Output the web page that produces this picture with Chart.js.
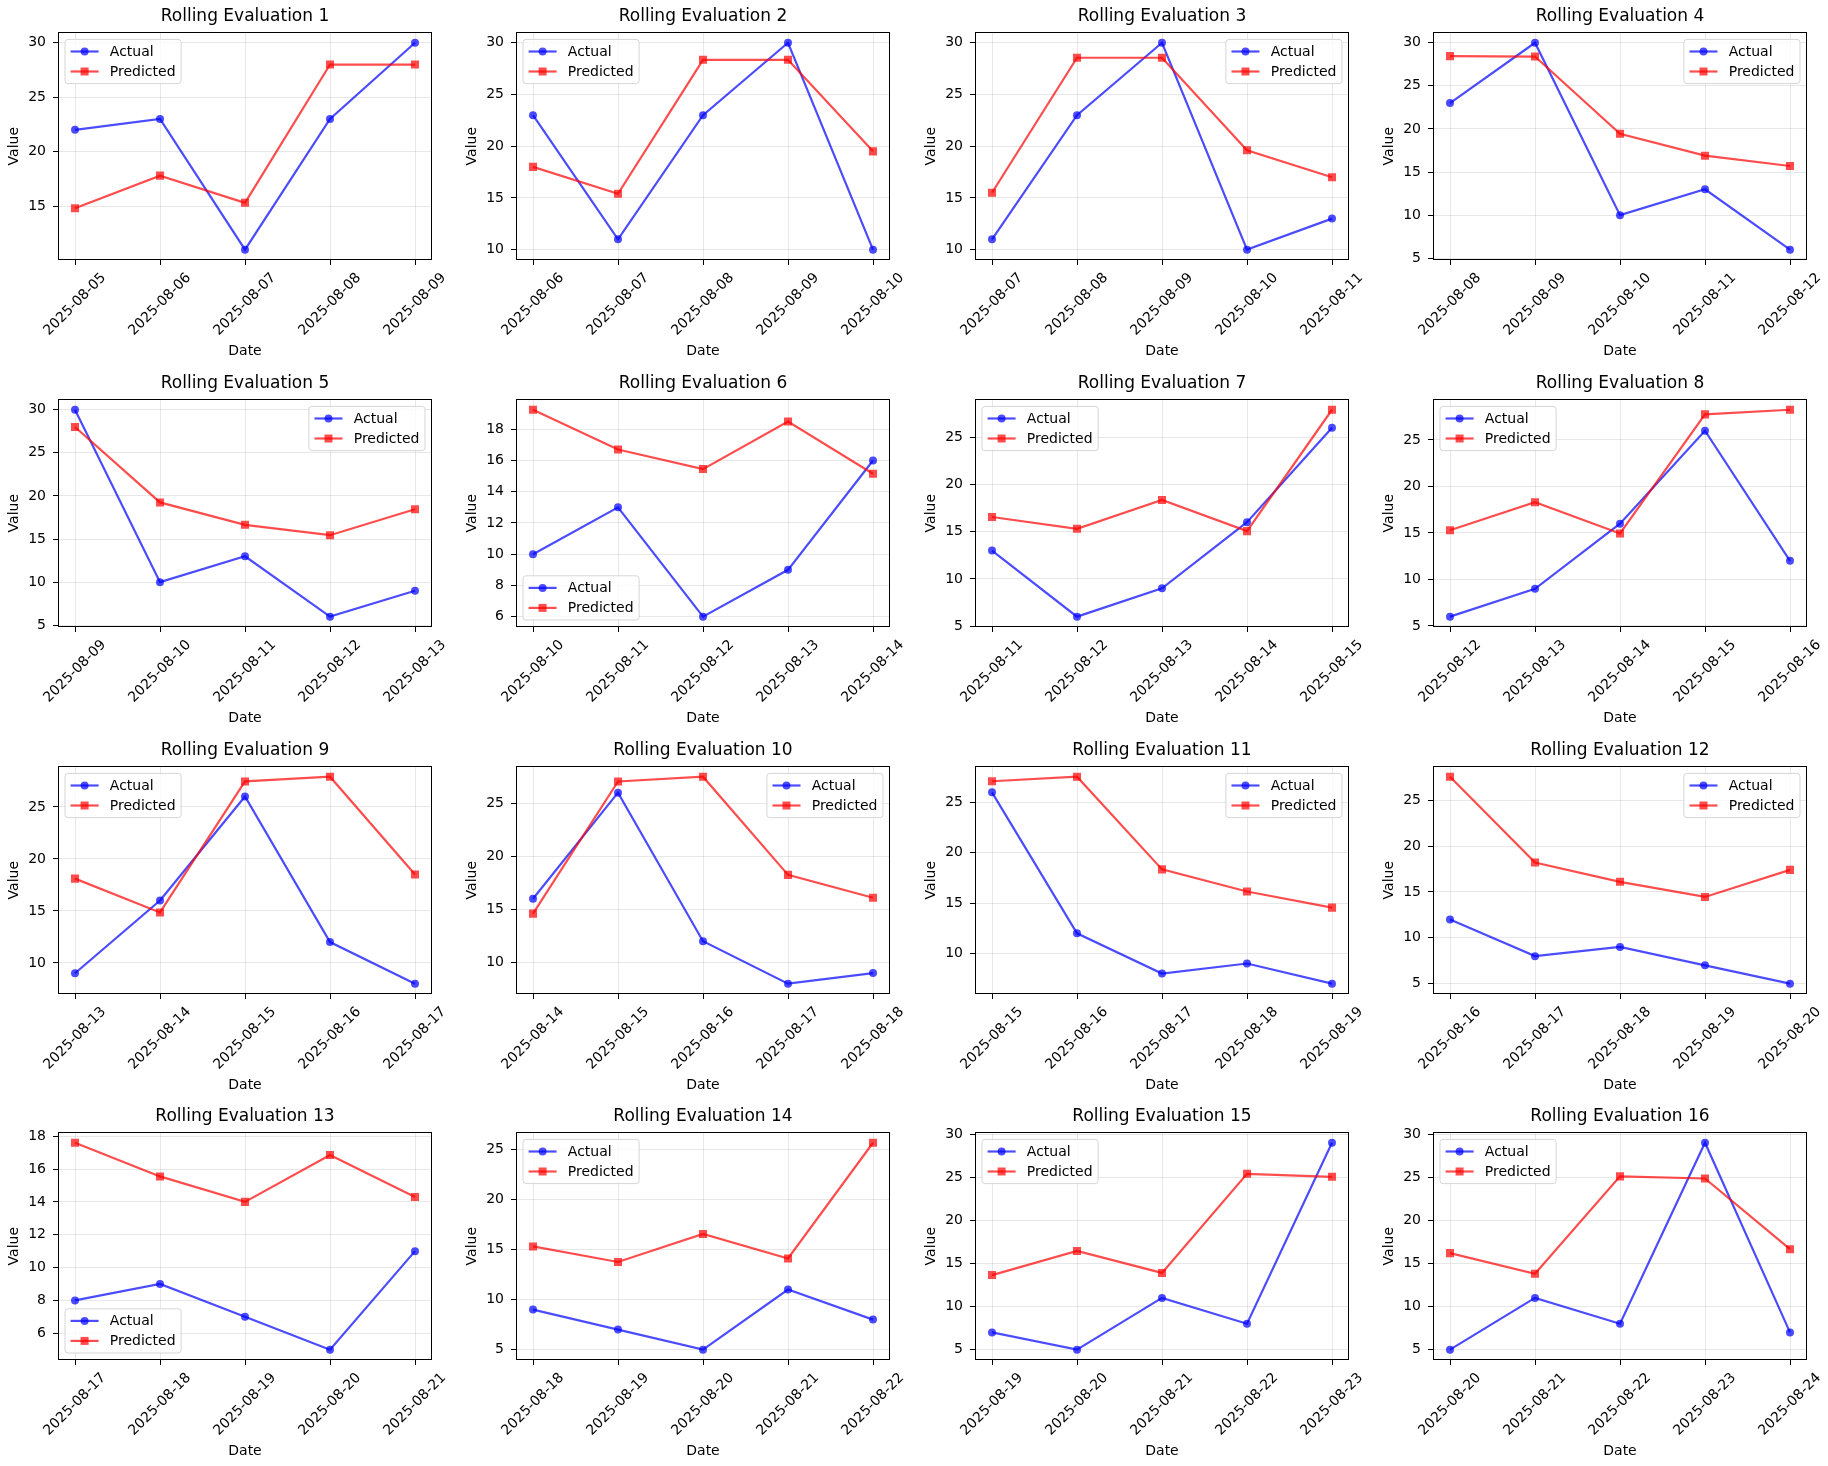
<!DOCTYPE html>
<html>
<head>
<meta charset="utf-8">
<title>Rolling Evaluation</title>
<script src="https://cdn.jsdelivr.net/npm/chart.js@4.4.1/dist/chart.umd.min.js"></script>
<style>
  html, body { margin: 0; padding: 0; background: #fff; overflow: hidden; }
  #grid { position: relative; width: 1828px; height: 1466px; }
  #grid canvas { position: absolute; }
</style>
</head>
<body>
<div id="grid"></div>
<script>
// Fechas y valores reales del periodo completo
const dates = [
    '2025-08-05', '2025-08-06', '2025-08-07', '2025-08-08', '2025-08-09',
    '2025-08-10', '2025-08-11', '2025-08-12', '2025-08-13', '2025-08-14',
    '2025-08-15', '2025-08-16', '2025-08-17', '2025-08-18', '2025-08-19',
    '2025-08-20', '2025-08-21', '2025-08-22', '2025-08-23', '2025-08-24'
];
const actual = [22, 23, 11, 23, 30, 10, 13, 6, 9, 16, 26, 12, 8, 9, 7, 5, 11, 8, 29, 7];

// Predicciones de cada ventana de 5 dias
const predicted = [
    [14.8, 17.8, 15.3, 28.0, 28.0],
    [18.0, 15.4, 28.35, 28.35, 19.5],
    [15.5, 28.55, 28.55, 19.6, 17.0],
    [28.45, 28.4, 19.45, 16.9, 15.7],
    [28.0, 19.25, 16.65, 15.45, 18.45],
    [19.25, 16.7, 15.45, 18.5, 15.15],
    [16.55, 15.3, 18.35, 15.05, 27.9],
    [15.3, 18.3, 14.95, 27.75, 28.25],
    [18.1, 14.85, 27.45, 27.9, 18.5],
    [14.6, 27.05, 27.5, 18.25, 16.1],
    [27.1, 27.55, 18.35, 16.15, 14.55],
    [27.55, 18.2, 16.1, 14.45, 17.4],
    [17.6, 15.55, 14.0, 16.85, 14.3],
    [15.3, 13.75, 16.55, 14.1, 25.65],
    [13.65, 16.45, 13.9, 25.4, 25.05],
    [16.2, 13.8, 25.1, 24.85, 16.65]
];

// Posicion de la leyenda en cada panel (u/l = arriba/abajo, l/r = izquierda/derecha)
const legendLoc = ['ul', 'ul', 'ur', 'ur', 'ur', 'll', 'ul', 'ul', 'ul', 'ur', 'ur', 'ur', 'll', 'ul', 'ul', 'ul'];

const WINDOW = 5;
const FONT = 'DejaVu Sans';
const axesLeft = [58, 516, 975, 1433];
const axesTop = [32, 399, 766, 1132];
const GRID_COLOR = 'rgba(176,176,176,0.3)';
const BLUE = 'rgba(0,0,255,0.7)';
const RED = 'rgba(255,0,0,0.7)';

Chart.defaults.font.family = FONT;
Chart.defaults.color = '#000';

// Dibuja un marcador (circulo o cuadrado) como en matplotlib
function drawMarker(ctx, style, x, y, color) {
    ctx.fillStyle = color;
    ctx.beginPath();
    if (style === 'circle') {
        ctx.arc(x, y, 4, 0, Math.PI * 2);
    } else {
        ctx.rect(x - 4, y - 4, 8, 8);
    }
    ctx.fill();
}

// Plugin: marco, etiquetas del eje x giradas y leyenda dentro del area
function panelDecor(labels, loc) {
    return {
        id: 'panelDecor',
        afterDraw(chart) {
            const ctx = chart.ctx;
            const area = chart.chartArea;
            const xScale = chart.scales.x;
            ctx.save();

            // Marco negro del area de ejes
            const l = Math.round(area.left) + 0.5, t = Math.round(area.top) + 0.5;
            const r = Math.round(area.right) - 0.5, b = Math.round(area.bottom) - 0.5;
            ctx.strokeStyle = '#000';
            ctx.lineWidth = 1;
            ctx.strokeRect(l, t, r - l, b - t);

            // Etiquetas de fecha a 45 grados, centradas bajo cada marca
            ctx.font = '14px "' + FONT + '"';
            ctx.fillStyle = '#000';
            ctx.textAlign = 'center';
            ctx.textBaseline = 'middle';
            xScale.ticks.forEach(tick => {
                const text = labels[tick.value];
                if (text === undefined) return;
                const w = ctx.measureText(text).width;
                const half = (w + 16) * Math.SQRT1_2 / 2;
                const px = xScale.getPixelForValue(tick.value);
                ctx.save();
                ctx.translate(px, area.bottom + 10 + half);
                ctx.rotate(-Math.PI / 4);
                ctx.fillText(text, 0, 0);
                ctx.restore();
            });

            // Leyenda
            const items = chart.data.datasets;
            const fs = 14, pad = 0.4 * fs, handle = 2 * fs, gap = 0.8 * fs, rowH = 13, spacing = 0.5 * fs;
            const textW = Math.max(...items.map(d => ctx.measureText(d.label).width));
            const bw = pad + handle + gap + textW + pad;
            const bh = pad * 2 + rowH * items.length + spacing * (items.length - 1);
            const x0 = loc[1] === 'l' ? area.left + 7 : area.right - 7 - bw;
            const y0 = loc[0] === 'u' ? area.top + 7 : area.bottom - 7 - bh;
            const rad = 3;
            ctx.beginPath();
            ctx.moveTo(x0 + rad, y0);
            ctx.arcTo(x0 + bw, y0, x0 + bw, y0 + bh, rad);
            ctx.arcTo(x0 + bw, y0 + bh, x0, y0 + bh, rad);
            ctx.arcTo(x0, y0 + bh, x0, y0, rad);
            ctx.arcTo(x0, y0, x0 + bw, y0, rad);
            ctx.closePath();
            ctx.fillStyle = 'rgba(255,255,255,0.8)';
            ctx.fill();
            ctx.strokeStyle = 'rgba(204,204,204,0.8)';
            ctx.stroke();

            items.forEach((d, i) => {
                const cy = y0 + pad + rowH / 2 + i * (rowH + spacing);
                ctx.strokeStyle = d.borderColor;
                ctx.lineWidth = 2.2;
                ctx.beginPath();
                ctx.moveTo(x0 + pad, cy);
                ctx.lineTo(x0 + pad + handle, cy);
                ctx.stroke();
                drawMarker(ctx, d.pointStyle, x0 + pad + handle / 2, cy, d.borderColor);
                ctx.fillStyle = '#000';
                ctx.textAlign = 'left';
                ctx.fillText(d.label, x0 + pad + handle + gap, cy + 0.5);
            });
            ctx.restore();
        }
    };
}

// Crea un panel para la ventana i
function renderPanel(container, i) {
    const col = i % 4, row = Math.floor(i / 4);
    const labels = dates.slice(i, i + WINDOW);
    const act = actual.slice(i, i + WINDOW);
    const pred = predicted[i];

    const all = act.concat(pred);
    const lo = Math.min(...all), hi = Math.max(...all);
    const margin = (hi - lo) * 0.05;

    const canvas = document.createElement('canvas');
    canvas.width = 450;
    canvas.height = 366;
    canvas.style.left = (axesLeft[col] - 58) + 'px';
    canvas.style.top = (axesTop[row] - 32) + 'px';
    container.appendChild(canvas);

    new Chart(canvas.getContext('2d'), {
        type: 'line',
        data: {
            datasets: [
                {
                    label: 'Actual',
                    data: act.map((v, k) => ({ x: k, y: v })),
                    borderColor: BLUE,
                    backgroundColor: BLUE,
                    borderWidth: 2.2,
                    pointStyle: 'circle',
                    pointRadius: 4,
                    pointBorderWidth: 0,
                    pointBackgroundColor: BLUE,
                    tension: 0,
                    fill: false,
                    order: 1
                },
                {
                    label: 'Predicted',
                    data: pred.map((v, k) => ({ x: k, y: v })),
                    borderColor: RED,
                    backgroundColor: RED,
                    borderWidth: 2.2,
                    pointStyle: 'rect',
                    pointRadius: 5.7,
                    pointBorderWidth: 0,
                    pointBackgroundColor: RED,
                    tension: 0,
                    fill: false,
                    order: 0
                }
            ]
        },
        options: {
            responsive: false,
            animation: false,
            layout: { padding: { left: 0, right: 18, top: 0, bottom: 0 } },
            plugins: {
                legend: { display: false },
                tooltip: { enabled: false },
                title: {
                    display: true,
                    text: 'Rolling Evaluation ' + (i + 1),
                    font: { size: 17, weight: 'normal' },
                    color: '#000',
                    padding: { top: 6, bottom: 6 },
                    fullSize: false
                }
            },
            scales: {
                x: {
                    type: 'linear',
                    min: -0.2,
                    max: WINDOW - 1 + 0.2,
                    ticks: { stepSize: 1, display: false, includeBounds: false, autoSkip: false },
                    grid: { color: GRID_COLOR, tickColor: '#000', tickLength: 5, lineWidth: 1 },
                    border: { display: false },
                    title: {
                        display: true,
                        text: 'Date',
                        font: { size: 14 },
                        color: '#000',
                        padding: { top: 0, bottom: 6.6 }
                    },
                    afterFit: s => { s.height = 106; }
                },
                y: {
                    type: 'linear',
                    min: lo - margin,
                    max: hi + margin,
                    ticks: {
                        stepSize: hi - lo > 15 ? 5 : 2,
                        includeBounds: false,
                        font: { size: 14 },
                        color: '#000',
                        padding: 7
                    },
                    grid: { color: GRID_COLOR, tickColor: '#000', tickLength: 5, lineWidth: 1 },
                    border: { display: false },
                    title: {
                        display: true,
                        text: 'Value',
                        font: { size: 14 },
                        color: '#000',
                        padding: { top: 5.6, bottom: 0 }
                    },
                    afterFit: s => { s.width = 58; }
                }
            }
        },
        plugins: [panelDecor(labels, legendLoc[i])]
    });
}

document.addEventListener('DOMContentLoaded', () => {
    const container = document.getElementById('grid');
    for (let i = 0; i < predicted.length; i++) {
        renderPanel(container, i);
    }
});
</script>
</body>
</html>
